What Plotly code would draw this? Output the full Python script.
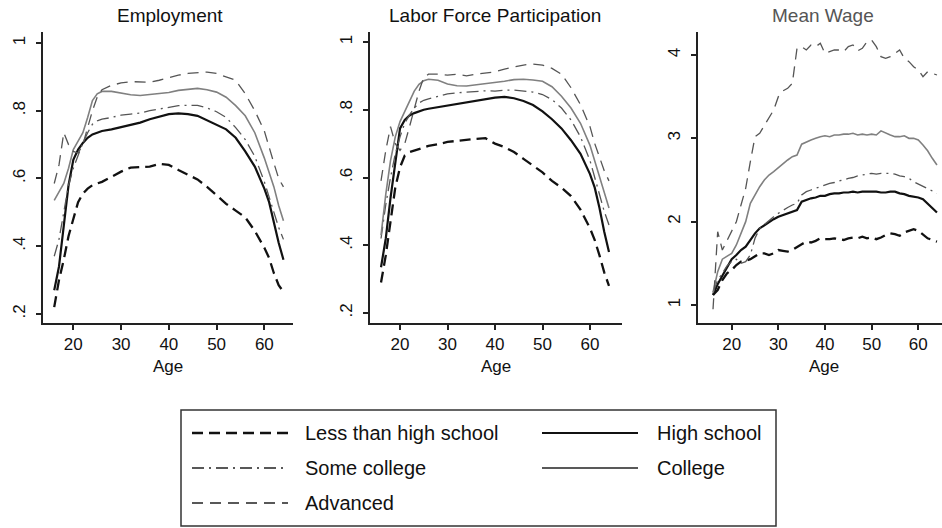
import plotly.graph_objects as go

# ---- data -------------------------------------------------------------
AGES = [16, 17, 18, 19, 20, 21, 22, 23, 24, 25, 26, 28, 30, 32, 34, 36, 38,
        40, 42, 44, 46, 48, 50, 52, 54, 56, 58, 60, 61, 62, 63, 64]
AGES_WAGE = list(range(16, 65))

GROUPS = ["Less than high school", "High school", "Some college",
          "College", "Advanced"]

EMP_LHS = [0.22, 0.30, 0.36, 0.43, 0.48, 0.53, 0.555, 0.57, 0.58, 0.585,
           0.59, 0.605, 0.62, 0.632, 0.634, 0.635, 0.643, 0.64, 0.625, 0.612,
           0.597, 0.575, 0.55, 0.525, 0.505, 0.485, 0.445, 0.395, 0.365, 0.32,
           0.285, 0.265]
EMP_HS = [0.27, 0.34, 0.46, 0.58, 0.655, 0.685, 0.705, 0.72, 0.73, 0.736,
          0.74, 0.745, 0.752, 0.76, 0.765, 0.775, 0.783, 0.79, 0.792, 0.79,
          0.785, 0.772, 0.76, 0.745, 0.72, 0.68, 0.635, 0.57, 0.53, 0.47,
          0.41, 0.36]
EMP_SC = [0.37, 0.42, 0.50, 0.58, 0.63, 0.67, 0.705, 0.735, 0.76, 0.77,
          0.775, 0.78, 0.787, 0.79, 0.793, 0.80, 0.805, 0.81, 0.815, 0.816,
          0.816, 0.808, 0.797, 0.78, 0.75, 0.715, 0.665, 0.59, 0.545, 0.495,
          0.455, 0.42]
EMP_COL = [0.535, 0.56, 0.585, 0.63, 0.685, 0.71, 0.735, 0.78, 0.83, 0.85,
           0.857, 0.857, 0.852, 0.847, 0.845, 0.848, 0.85, 0.854, 0.86, 0.864,
           0.866, 0.862, 0.855, 0.84, 0.815, 0.785, 0.735, 0.66, 0.62, 0.575,
           0.52, 0.475]
EMP_ADV = [0.585, 0.64, 0.735, 0.70, 0.68, 0.675, 0.70, 0.75, 0.80, 0.84,
           0.862, 0.875, 0.882, 0.886, 0.885, 0.884, 0.89, 0.898, 0.905, 0.91,
           0.912, 0.914, 0.91, 0.90, 0.89, 0.85, 0.80, 0.74, 0.69, 0.645,
           0.60, 0.575]

LFP_LHS = [0.29, 0.37, 0.47, 0.57, 0.63, 0.665, 0.675, 0.68, 0.685, 0.69,
           0.693, 0.698, 0.705, 0.708, 0.712, 0.714, 0.716, 0.70, 0.69, 0.675,
           0.655, 0.635, 0.615, 0.59, 0.57, 0.545, 0.505, 0.45, 0.415, 0.37,
           0.32, 0.28]
LFP_HS = [0.335, 0.42, 0.54, 0.65, 0.745, 0.77, 0.783, 0.79, 0.796, 0.80,
          0.803, 0.808, 0.812, 0.817, 0.822, 0.827, 0.832, 0.836, 0.838, 0.834,
          0.826, 0.814, 0.795, 0.772, 0.745, 0.71, 0.67, 0.61, 0.57, 0.51,
          0.44, 0.38]
LFP_SC = [0.42, 0.52, 0.60, 0.67, 0.72, 0.76, 0.785, 0.805, 0.82, 0.828,
          0.832, 0.84, 0.847, 0.85, 0.852, 0.855, 0.856, 0.855, 0.858, 0.858,
          0.856, 0.852, 0.845, 0.83, 0.805, 0.77, 0.72, 0.65, 0.60, 0.55,
          0.50, 0.46]
LFP_COL = [0.43, 0.55, 0.65, 0.72, 0.765, 0.795, 0.825, 0.855, 0.875, 0.886,
           0.89, 0.887, 0.876, 0.871, 0.87, 0.873, 0.878, 0.88, 0.884, 0.889,
           0.89, 0.888, 0.884, 0.868, 0.84, 0.805, 0.76, 0.695, 0.65, 0.60,
           0.555, 0.51]
LFP_ADV = [0.59, 0.68, 0.75, 0.70, 0.68, 0.70, 0.75, 0.80, 0.855, 0.895,
           0.905, 0.905, 0.902, 0.905, 0.90, 0.905, 0.908, 0.912, 0.92, 0.926,
           0.932, 0.935, 0.932, 0.922, 0.905, 0.865, 0.815, 0.75, 0.70, 0.66,
           0.62, 0.59]

WAGE_LHS = [1.12, 1.18, 1.30, 1.38, 1.42, 1.48, 1.52, 1.53, 1.55, 1.58,
            1.62, 1.62, 1.60, 1.62, 1.66, 1.65, 1.64, 1.66, 1.70, 1.73,
            1.76, 1.75, 1.77, 1.80, 1.79, 1.79, 1.80, 1.79, 1.78, 1.80,
            1.81, 1.80, 1.82, 1.80, 1.81, 1.79, 1.81, 1.84, 1.86, 1.85,
            1.83, 1.87, 1.89, 1.91, 1.89, 1.84, 1.80, 1.78, 1.76]
WAGE_HS = [1.12, 1.25, 1.35, 1.45, 1.55, 1.60, 1.66, 1.70, 1.78, 1.86,
           1.92, 1.96, 2.00, 2.03, 2.06, 2.08, 2.10, 2.12, 2.14, 2.24,
           2.26, 2.28, 2.29, 2.31, 2.31, 2.33, 2.34, 2.34, 2.35, 2.35,
           2.36, 2.35, 2.36, 2.36, 2.36, 2.36, 2.35, 2.35, 2.36, 2.36,
           2.34, 2.33, 2.31, 2.30, 2.29, 2.27, 2.22, 2.17, 2.11]
WAGE_SC = [1.15, 1.30, 1.38, 1.47, 1.52, 1.55, 1.50, 1.52, 1.60, 1.80,
           1.92, 1.97, 2.02, 2.06, 2.10, 2.14, 2.17, 2.20, 2.22, 2.32,
           2.36, 2.38, 2.40, 2.42, 2.44, 2.46, 2.47, 2.49, 2.50, 2.52,
           2.53, 2.55, 2.56, 2.57, 2.58, 2.57, 2.58, 2.58, 2.58, 2.57,
           2.55, 2.54, 2.52, 2.48, 2.45, 2.42, 2.40, 2.37, 2.34]
WAGE_COL = [1.15, 1.40, 1.55, 1.58, 1.62, 1.72, 1.86, 2.00, 2.22, 2.32,
            2.42, 2.50, 2.56, 2.60, 2.65, 2.70, 2.74, 2.78, 2.80, 2.93,
            2.96, 2.98, 3.00, 3.02, 3.03, 3.02, 3.04, 3.04, 3.05, 3.05,
            3.06, 3.04, 3.05, 3.04, 3.05, 3.04, 3.09, 3.06, 3.04, 3.02,
            3.02, 3.03, 3.00, 3.00, 2.98, 2.92, 2.85, 2.76, 2.68]
WAGE_ADV = [0.95, 1.88, 1.66, 1.78, 1.90, 2.00, 2.20, 2.40, 2.72, 3.02,
            3.06, 3.15, 3.25, 3.34, 3.50, 3.57, 3.60, 3.66, 4.08, 4.10,
            4.06, 4.12, 4.10, 4.14, 4.02, 4.04, 4.06, 4.06, 4.04, 4.10,
            4.12, 4.05, 4.08, 4.16, 4.18, 4.10, 3.98, 3.96, 3.98, 4.02,
            4.06, 3.96, 3.92, 3.86, 3.82, 3.74, 3.80, 3.78, 3.76]

PANEL_TITLES = ["Employment", "Labor Force Participation", "Mean Wage"]
X_TICKS = [20, 30, 40, 50, 60]
SHARE_TICKS = [0.2, 0.4, 0.6, 0.8, 1.0]
SHARE_TICK_TEXT = [".2", ".4", ".6", ".8", "1"]
WAGE_TICKS = [1, 2, 3, 4]

# ---- styling ----------------------------------------------------------
W, H = 942, 528
FONT = "Liberation Sans, Arial, sans-serif"
INK = "#111111"
AXIS = "#222222"
TITLE_SIZE = 19
TICK_SIZE = 17
LEGEND_SIZE = 20

STYLES = {
    "Less than high school": dict(color="#111111", width=2.3, dash="11px,6px"),
    "High school": dict(color="#111111", width=2.2, dash="solid"),
    "Some college": dict(color="#555555", width=1.3, dash="12px,5px,2px,5px"),
    "College": dict(color="#808080", width=1.6, dash="solid"),
    "Advanced": dict(color="#555555", width=1.3, dash="11px,7px"),
}


def px_x(x):
    return x / W


def px_y(y):
    return 1 - y / H


panels = [
    dict(x=AGES, series=[EMP_LHS, EMP_HS, EMP_SC, EMP_COL, EMP_ADV],
         xdom=(43, 293), xrng=(13.65, 66.0), yrng=(0.173, 1.0325),
         yticks=SHARE_TICKS, ytext=SHARE_TICK_TEXT, title_x=170,
         title_color=INK),
    dict(x=AGES, series=[LFP_LHS, LFP_HS, LFP_SC, LFP_COL, LFP_ADV],
         xdom=(370, 622), xrng=(13.68, 66.74), yrng=(0.1705, 1.0295),
         yticks=SHARE_TICKS, ytext=SHARE_TICK_TEXT, title_x=495,
         title_color=INK),
    dict(x=AGES_WAGE, series=[WAGE_LHS, WAGE_HS, WAGE_SC, WAGE_COL, WAGE_ADV],
         xdom=(698, 942), xrng=(12.78, 65.08), yrng=(0.784, 4.276),
         yticks=WAGE_TICKS, ytext=[str(v) for v in WAGE_TICKS], title_x=823,
         title_color="#555555"),
]

PLOT_TOP, PLOT_BOTTOM = 32, 323

fig = go.Figure()
layout = dict(
    width=W, height=H,
    margin=dict(l=0, r=0, t=0, b=0),
    paper_bgcolor="white", plot_bgcolor="white",
    showlegend=False,
    font=dict(family=FONT, size=TICK_SIZE, color=INK),
)

annotations = []
shapes = []

for i, p in enumerate(panels, start=1):
    xa = "x" if i == 1 else f"x{i}"
    ya = "y" if i == 1 else f"y{i}"
    for name, vals in zip(GROUPS, p["series"]):
        st = STYLES[name]
        fig.add_trace(go.Scatter(
            x=p["x"], y=vals, mode="lines", name=name,
            line=dict(color=st["color"], width=st["width"], dash=st["dash"]),
            xaxis=xa, yaxis=ya, hoverinfo="skip"))
    axis_common = dict(showgrid=False, zeroline=False, showline=True,
                       linecolor=AXIS, linewidth=1.5, ticks="outside",
                       ticklen=5, tickwidth=1.5, tickcolor=AXIS,
                       tickfont=dict(family=FONT, size=TICK_SIZE, color=INK))
    layout["xaxis" if i == 1 else f"xaxis{i}"] = dict(
        axis_common, domain=[px_x(p["xdom"][0]), px_x(p["xdom"][1])],
        range=list(p["xrng"]), tickvals=X_TICKS, anchor=ya,
        ticklabelstandoff=0)
    layout["yaxis" if i == 1 else f"yaxis{i}"] = dict(
        axis_common, domain=[px_y(PLOT_BOTTOM), px_y(PLOT_TOP)],
        range=list(p["yrng"]), tickvals=p["yticks"], ticktext=p["ytext"],
        tickangle=-90, anchor=xa, ticklabelstandoff=4)
    # panel title
    annotations.append(dict(
        text=PANEL_TITLES[i - 1], x=px_x(p["title_x"]), y=px_y(15),
        xref="paper", yref="paper", xanchor="center", yanchor="middle",
        showarrow=False, font=dict(family=FONT, size=TITLE_SIZE,
                                   color=p["title_color"])))
    # x-axis title
    ax_center = (p["xdom"][0] + p["xdom"][1]) / 2 if i < 3 else 824
    annotations.append(dict(
        text="Age", x=px_x(ax_center), y=px_y(366),
        xref="paper", yref="paper", xanchor="center", yanchor="middle",
        showarrow=False, font=dict(family=FONT, size=TICK_SIZE, color=INK)))

# ---- legend box ------------------------------------------------------
shapes.append(dict(type="rect", xref="paper", yref="paper",
                   x0=px_x(181), x1=px_x(776), y0=px_y(526), y1=px_y(410),
                   line=dict(color="#333333", width=1.5),
                   fillcolor="rgba(0,0,0,0)"))

legend_slots = {
    "Less than high school": (192, 288, 303, 433),
    "Some college": (192, 288, 303, 468),
    "Advanced": (192, 288, 303, 503),
    "High school": (542, 638, 655, 433),
    "College": (542, 638, 655, 468),
}
for name, (lx0, lx1, tx, ly) in legend_slots.items():
    st = STYLES[name]
    shapes.append(dict(type="line", xref="paper", yref="paper",
                       x0=px_x(lx0), x1=px_x(lx1), y0=px_y(ly), y1=px_y(ly),
                       line=dict(color="#222222" if st["color"] != "#111111"
                                 else st["color"],
                                 width=st["width"], dash=st["dash"])))
    annotations.append(dict(
        text=name, x=px_x(tx), y=px_y(ly), xref="paper", yref="paper",
        xanchor="left", yanchor="middle", showarrow=False,
        font=dict(family=FONT, size=LEGEND_SIZE, color=INK)))

layout["annotations"] = annotations
layout["shapes"] = shapes
fig.update_layout(**layout)

fig.write_html("out.html")
